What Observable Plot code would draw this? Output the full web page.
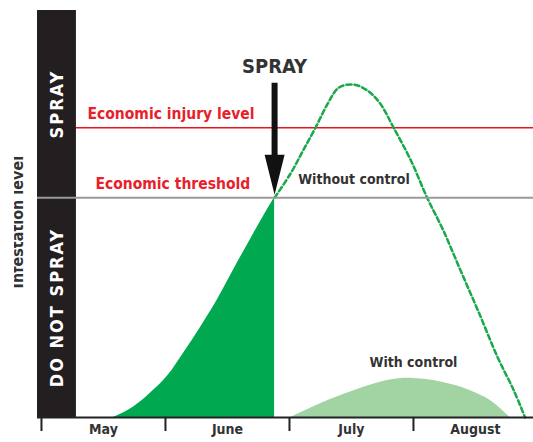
<!DOCTYPE html>
<html><head><meta charset="utf-8">
<script src="https://cdn.jsdelivr.net/npm/d3@7"></script>
<script src="https://cdn.jsdelivr.net/npm/@observablehq/plot@0.6"></script>
<style>
body{margin:0;background:#fff;}
#chart{width:533px;height:442px;}
</style></head><body><div id="chart"></div>
<script>
// Month axis (x in months since start of May)
const months = ["May", "June", "July", "August"];
const monthStarts = [0, 1, 2, 3];

// Levels (infestation units)
const economicThreshold = 54;
const economicInjuryLevel = 71.2;
const sprayMonth = 1.88;

// Infestation rising until spray
const beforeX = [0.58, 0.74, 0.88, 1.02, 1.15, 1.28, 1.42, 1.55, 1.69, 1.82, 1.88];
const beforeY = [0, 2.5, 6, 10.3, 16, 22, 29, 36.3, 44, 51, 54];

// Without control (dashed)
const noControlX = [1.88, 2.01, 2.11, 2.21, 2.31, 2.40, 2.52, 2.63, 2.73, 2.84, 2.98, 3.11, 3.24, 3.38, 3.52, 3.68, 3.81, 3.90];
const noControlY = [54, 60, 65.6, 71.2, 77.2, 81.1, 81.8, 80.3, 77.2, 71.2, 63.1, 54, 46, 36.1, 26.3, 14.7, 6.6, 0];

// With control (light fill)
const withControlX = [2.01, 2.25, 2.52, 2.79, 3.0, 3.24, 3.46, 3.62, 3.78];
const withControlY = [0, 3.4, 6.6, 9.1, 9.6, 8.6, 6.6, 4.2, 0];

// Decision zones
const zoneNames = ["DO NOT SPRAY", "SPRAY"];
const zoneLow = [0, economicThreshold];
const zoneHigh = [economicThreshold, 100];

const FONT = '"DejaVu Sans Condensed","DejaVu Sans",sans-serif';
const zip = (xs, ys) => xs.map((x, i) => ({x, y: ys[i]}));
const before = zip(beforeX, beforeY);
const noControl = zip(noControlX, noControlY);
const withControl = zip(withControlX, withControlY);
const zones = zoneNames.map((name, i) => ({name, y1: zoneLow[i], y2: zoneHigh[i]}));
const noPeak = d3.greatest(noControl, d => d.y);
const withPeak = d3.greatest(withControl, d => d.y);

const arrowShape = {
  draw(ctx, l) {
    const hw = 10, sw = 3, hl = 40;
    ctx.moveTo(-sw, 0);
    ctx.lineTo(-sw, -l + hl);
    ctx.lineTo(-hw, -l + hl);
    ctx.lineTo(0, -l);
    ctx.lineTo(hw, -l + hl);
    ctx.lineTo(sw, -l + hl);
    ctx.lineTo(sw, 0);
    ctx.closePath();
  }
};

const xStart = -0.032, barEnd = 0.282;

const chart = Plot.plot({
  width: 533, height: 442,
  marginTop: 10, marginBottom: 25, marginLeft: 37, marginRight: 0,
  style: {fontFamily: FONT, background: "#fff", overflow: "visible"},
  x: {domain: [xStart, 3.968], label: null},
  y: {domain: [0, 100], axis: null},
  marks: [
    Plot.ruleY([economicInjuryLevel], {stroke: "#e8141c", strokeWidth: 1.5}),
    Plot.areaY(before, {x: "x", y: "y", fill: "#00a94f", curve: "monotone-x"}),
    Plot.areaY(withControl, {x: "x", y: "y", fill: "#a2d3a2", curve: "catmull-rom"}),
    Plot.line(noControl, {x: "x", y: "y", stroke: "#19a84b", strokeWidth: 2.5, strokeDasharray: "5,3", curve: "catmull-rom"}),
    Plot.rect(zones, {x1: xStart, x2: barEnd, y1: "y1", y2: "y2", fill: "#231f20"}),
    Plot.ruleY([economicThreshold], {stroke: "#9a9a9a", strokeWidth: 2}),
    Plot.text(zones, {x: (xStart + barEnd) / 2, y: d => (d.y1 + d.y2) / 2, text: "name", rotate: -90, fill: "#ffffff", fontSize: 18, fontWeight: "bold"}),
    Plot.ruleY([0], {stroke: "#222", strokeWidth: 2}),
    Plot.axisX({ticks: monthStarts, tickSize: 14, tickFormat: () => "", strokeWidth: 2, color: "#222"}),
    Plot.axisX({ticks: monthStarts.map(d => d + 0.5), tickSize: 0, tickPadding: 7, tickFormat: d => months[Math.floor(d)], fontSize: 14, fontWeight: "bold", color: "#333"}),
    Plot.vector([sprayMonth], {x: d => d, y: economicThreshold, length: 112, rotate: 180, anchor: "end", shape: arrowShape, fill: "#111", stroke: "none", dy: -3}),
    Plot.text(["SPRAY"], {x: sprayMonth, y: economicThreshold, dy: -125, text: d => d, fontSize: 20, fontWeight: "bold", fill: "#333", lineAnchor: "bottom"}),
    Plot.text(["Economic injury level"], {x: 0.371, y: economicInjuryLevel, dy: -9, text: d => d, textAnchor: "start", lineAnchor: "bottom", fontSize: 15.5, fontWeight: "bold", fill: "#e8202a"}),
    Plot.text(["Economic threshold"], {x: 0.435, y: economicThreshold, dy: -9, text: d => d, textAnchor: "start", lineAnchor: "bottom", fontSize: 15.5, fontWeight: "bold", fill: "#e8202a"}),
    Plot.text(["Without control"], {x: noPeak.x, y: economicThreshold, dy: -14, text: d => d, lineAnchor: "bottom", fontSize: 14, fontWeight: "bold", fill: "#333"}),
    Plot.text(["With control"], {x: withPeak.x, y: withPeak.y, dy: -11, text: d => d, lineAnchor: "bottom", fontSize: 14, fontWeight: "bold", fill: "#333"}),
    Plot.text(["Infestation level"], {frameAnchor: "left", y: 48, dx: -15, text: d => d, rotate: -90, textAnchor: "middle", lineAnchor: "bottom", fontSize: 16, fontWeight: "bold", fill: "#333"})
  ]
});
// letter-spaced white capitals in the decision bar, as in the reference
d3.select(chart).selectAll("text")
  .filter(function() {
    const g = this.closest("g");
    return zoneNames.includes(this.textContent) && g && g.getAttribute("fill") === "#ffffff";
  })
  .style("letter-spacing", "2px");
// mask the cut-off left edge of the y label, as in the reference
d3.select(chart).append("rect").attr("x", 0).attr("y", 0).attr("width", 14).attr("height", 442).attr("fill", "#fff");
document.getElementById("chart").appendChild(chart);
</script></body></html>
